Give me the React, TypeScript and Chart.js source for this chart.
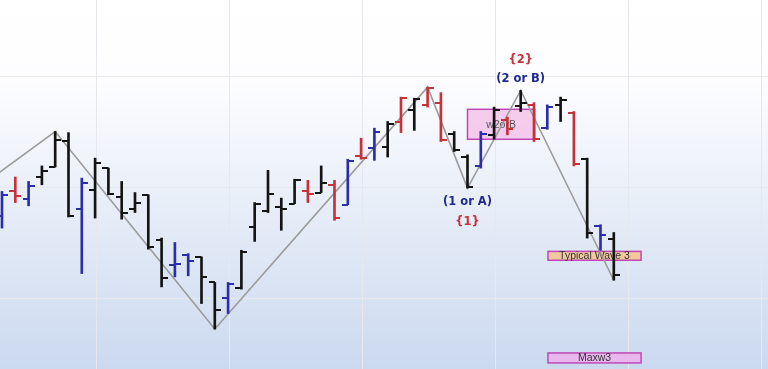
import { useEffect, useRef } from 'react';
import { Chart, registerables } from 'chart.js';

Chart.register(...registerables);

// One OHLC bar per session; the x value of a bar is its session index.
const highs = [196, 209, 205, 219, 250, 249, 208, 226, 217, 205, 195, 193, 154, 150, 140, 137, 114, 114, 143, 186, 215, 190, 207, 206, 219, 206, 225, 244, 253, 259, 281, 280, 290, 285, 250, 229, 250, 272, 263, 287, 276, 274, 281, 268, 226, 166, 159];
const lows = [163, 186, 183, 202, 218, 173, 122, 172, 193, 171, 177, 144, 110, 119, 120, 95, 72, 86, 108, 151, 177, 161, 185, 186, 195, 170, 184, 225, 224, 227, 249, 251, 272, 241, 232, 199, 217, 243, 247, 268, 241, 252, 259, 219, 154, 143, 116];
const opens = [174, 196, 189, 209, 218, 241, 180, 197, 217, 191, 180, 193, 152, 130, 139, 137, 114, 100, 109, 164, 178, 182, 185, 196, 195, 202, 184, 228, 235, 236, 259, 269, 274, 276, 248, 227, 219, 247, 260, 273, 274, 253, 274, 267, 225, 165, 153];
const closes = [193, 192, 201, 214, 242, 174, 204, 222, 194, 177, 186, 146, 118, 131, 133, 119, 89, 113, 141, 185, 194, 180, 206, 194, 204, 172, 223, 226, 250, 257, 280, 279, 289, 242, 233, 200, 248, 269, 252, 276, 243, 272, 278, 221, 159, 157, 121];
const barTones = [
  'blue', 'red', 'blue', 'black', 'black', 'black', 'blue', 'black', 'black', 'black',
  'black', 'black', 'black', 'blue', 'blue', 'black', 'black', 'blue', 'black', 'black',
  'black', 'black', 'black', 'red', 'black', 'red', 'blue', 'red', 'blue', 'black',
  'red', 'black', 'red', 'red', 'black', 'black', 'blue', 'black', 'red', 'black',
  'red', 'blue', 'black', 'red', 'black', 'blue', 'black',
];

// Zigzag swing points (session index, price)
const swingBars = [-1, 4, 16, 32, 35, 39, 46];
const swingPrices = [206, 250, 72, 290, 199, 287, 116];

// Wave counts attached to swing points
const waveLabelText = ['(1 or A)', '{1}', '(2 or B)', '{2}'];
const waveLabelBar = [35, 35, 39, 39];
const waveLabelPrice = [199, 199, 287, 287];
const waveLabelRow = [1, 2, -1, -2];
const waveLabelTone = ['navy', 'red', 'navy', 'red'];

// Target zones
const zoneNames = ['w2orB', 'Typical Wave 3', 'Maxw3'];
const zoneFrom = [35, 41.05, 41.05];
const zoneTo = [40.05, 48.05, 48.05];
const zoneTop = [270, 142, 50.5];
const zoneBottom = [243, 134, 41.5];

// Vertical grid every ten sessions, horizontal grid every 100
const xGridTicks = [7.13, 17.13, 27.13, 37.13, 47.13, 57.13];
const yGridTicks = [100, 200, 300];

const TONES: Record<string, string> = {
  black: '#141414',
  blue: '#2a2ea8',
  red: '#c4323a',
  navy: '#1f2a8c',
};

const ZONE_FILL = ['rgba(244, 160, 220, 0.5)', 'rgba(244, 196, 150, 0.9)', 'rgba(236, 176, 236, 0.85)'];
const ZONE_EDGE = '#c048b4';

function tickImage(color: string, side: 'left' | 'right'): HTMLCanvasElement {
  const c = document.createElement('canvas');
  c.width = 12;
  c.height = 2;
  const g = c.getContext('2d')!;
  g.fillStyle = color;
  g.fillRect(side === 'left' ? 0 : 6, 0, 6, 2);
  return c;
}

export default function App() {
  const canvasRef = useRef<HTMLCanvasElement | null>(null);

  useEffect(() => {
    const canvas = canvasRef.current;
    if (!canvas) return;

    const leftTicks: Record<string, HTMLCanvasElement> = {};
    const rightTicks: Record<string, HTMLCanvasElement> = {};
    for (const k of ['black', 'blue', 'red']) {
      leftTicks[k] = tickImage(TONES[k], 'left');
      rightTicks[k] = tickImage(TONES[k], 'right');
    }

    const background = {
      id: 'background',
      beforeDraw(chart: Chart) {
        const { ctx, width, height } = chart;
        const grad = ctx.createLinearGradient(0, 0, 0, height);
        grad.addColorStop(0, '#ffffff');
        grad.addColorStop(0.22, '#fdfdff');
        grad.addColorStop(0.55, '#e8eef8');
        grad.addColorStop(1, '#cbd9ef');
        ctx.save();
        ctx.fillStyle = grad;
        ctx.fillRect(0, 0, width, height);
        ctx.restore();
      },
    };

    const zones = {
      id: 'zones',
      beforeDatasetsDraw(chart: Chart) {
        const { ctx } = chart;
        const xs = chart.scales.x;
        const ys = chart.scales.y;
        ctx.save();
        zoneNames.forEach((name, i) => {
          const x0 = xs.getPixelForValue(zoneFrom[i]);
          const x1 = xs.getPixelForValue(zoneTo[i]);
          const y0 = ys.getPixelForValue(zoneTop[i]);
          const y1 = ys.getPixelForValue(zoneBottom[i]);
          ctx.fillStyle = ZONE_FILL[i];
          ctx.fillRect(x0, y0, x1 - x0, y1 - y0);
          ctx.strokeStyle = ZONE_EDGE;
          ctx.lineWidth = 1.5;
          ctx.strokeRect(x0, y0, x1 - x0, y1 - y0);
          ctx.fillStyle = i === 0 ? '#555555' : '#333333';
          ctx.font = '10.5px "Liberation Sans", Arial, sans-serif';
          ctx.textAlign = 'center';
          ctx.textBaseline = 'middle';
          ctx.fillText(name, (x0 + x1) / 2, (y0 + y1) / 2 + 0.5);
        });
        ctx.restore();
      },
    };

    const waveLabels = {
      id: 'waveLabels',
      afterDatasetsDraw(chart: Chart) {
        const { ctx } = chart;
        const xs = chart.scales.x;
        const ys = chart.scales.y;
        ctx.save();
        ctx.font = 'bold 11.5px "DejaVu Sans", sans-serif';
        ctx.textAlign = 'center';
        ctx.textBaseline = 'middle';
        waveLabelText.forEach((text, i) => {
          const row = waveLabelRow[i];
          const px = xs.getPixelForValue(waveLabelBar[i]);
          const py = ys.getPixelForValue(waveLabelPrice[i]);
          const dy = row > 0 ? 14 + (row - 1) * 20 : -11 - (-row - 1) * 19;
          ctx.fillStyle = TONES[waveLabelTone[i]];
          ctx.fillText(text, px, py + dy);
        });
        ctx.restore();
      },
    };

    const sessions = highs.map((_, i) => i);

    const chart = new Chart(canvas, {
      type: 'bar',
      data: {
        datasets: [
          {
            type: 'line',
            label: 'Zigzag',
            data: swingBars.map((b, i) => ({ x: b, y: swingPrices[i] })),
            borderColor: '#9c9c9c',
            borderWidth: 1.6,
            pointRadius: 0,
            tension: 0,
            order: 3,
          },
          {
            type: 'bar',
            label: 'Range',
            data: sessions.map((i) => ({ x: i, y: [lows[i], highs[i]] })) as any,
            backgroundColor: barTones.map((t) => TONES[t]),
            borderWidth: 0,
            barThickness: 2,
            order: 2,
          },
          {
            type: 'line',
            label: 'Open',
            data: sessions.map((i) => ({ x: i, y: opens[i] })),
            showLine: false,
            pointRadius: 3,
            pointStyle: (ctx: any) => leftTicks[barTones[ctx.dataIndex]],
            order: 1,
          },
          {
            type: 'line',
            label: 'Close',
            data: sessions.map((i) => ({ x: i, y: closes[i] })),
            showLine: false,
            pointRadius: 3,
            pointStyle: (ctx: any) => rightTicks[barTones[ctx.dataIndex]],
            order: 1,
          },
        ],
      },
      options: {
        animation: false,
        responsive: false,
        devicePixelRatio: 1,
        layout: { padding: 0, autoPadding: false },
        plugins: {
          legend: { display: false },
          tooltip: { enabled: false },
        },
        scales: {
          x: {
            type: 'linear',
            min: -0.15,
            max: 57.594,
            offset: false,
            afterBuildTicks: (scale: any) => {
              scale.ticks = xGridTicks.map((v) => ({ value: v }));
            },
            ticks: { display: false },
            grid: { color: '#e6e8ee', lineWidth: 1, drawTicks: false, offset: false },
            border: { display: false },
          },
          y: {
            type: 'linear',
            min: 36.04,
            max: 368.47,
            afterBuildTicks: (scale: any) => {
              scale.ticks = yGridTicks.map((v) => ({ value: v }));
            },
            ticks: { display: false },
            grid: { color: '#e6e8ee', lineWidth: 1, drawTicks: false },
            border: { display: false },
          },
        },
      } as any,
      plugins: [background, zones, waveLabels],
    });

    return () => chart.destroy();
  }, []);

  return (
    <div style={{ position: 'absolute', left: 0, top: 0, width: 768, height: 369 }}>
      <canvas ref={canvasRef} width={768} height={369} style={{ display: 'block' }} />
    </div>
  );
}
